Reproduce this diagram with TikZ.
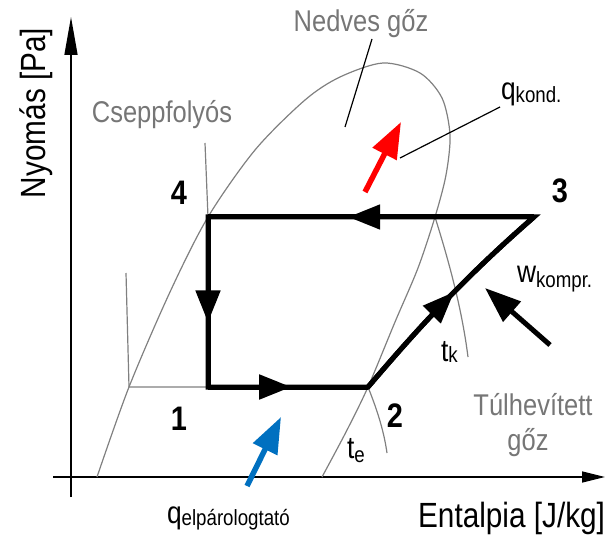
\documentclass[tikz,border=0pt]{standalone}
\usepackage{fontspec}
\setmainfont[FakeStretch=0.85]{Liberation Sans}
\usetikzlibrary{arrows.meta,decorations.markings}

\definecolor{labelgray}{RGB}{118,118,118}
\definecolor{curvegray}{RGB}{128,128,128}
\definecolor{heatblue}{RGB}{0,112,192}

\newcommand{\axisfont}{\fontsize{35}{40}\selectfont}
\newcommand{\regionfont}{\fontsize{30}{35}\selectfont}
\newcommand{\pointfont}{\fontsize{34}{40}\selectfont\bfseries}
\newcommand{\quantfont}{\fontsize{31}{35}\selectfont}
\newcommand{\lowindex}[2][3pt]{\raisebox{-#1}{\fontsize{22}{24}\selectfont #2}}

\tikzset{
  axisline/.style={line width=1.5pt},
  curve/.style={curvegray,line width=1.2pt},
  leader/.style={line width=1.2pt},
  cycleline/.style={line width=5pt,line join=miter},
  flowarrow/.style={postaction={decorate},
    decoration={markings,mark=at position #1 with {\arrow{Triangle[length=32pt,width=24pt]}}}},
  heatarrow/.style={line width=5.5pt,-{Triangle[length=36pt,width=26pt]}},
  txt/.style={inner sep=0pt,outer sep=0pt}
}

\begin{document}
\begin{tikzpicture}[x=1pt,y=-1pt]
\useasboundingbox (0,0) rectangle (610,537);

\coordinate (XAxisMin) at (53,477);
\coordinate (XAxisMax) at (605,477);
\coordinate (YAxisMin) at (71,497);
\coordinate (YAxisMax) at (71,17);

\coordinate (PointOne)   at (208,387);
\coordinate (PointTwo)   at (368,387);
\coordinate (PointThree) at (534,217);
\coordinate (PointFour)  at (208,217);
\coordinate (DomeRight)  at (435,217);
\coordinate (LiquidCorner) at (129,387);

\draw[axisline,-{Triangle[length=23pt,width=11pt]}] (XAxisMin) -- (XAxisMax);% x axis
\draw[axisline,-{Triangle[length=38pt,width=13pt]}] (YAxisMin) -- (YAxisMax);% y axis

% saturation dome
\draw[curve] plot[smooth,tension=0.5] coordinates {(97,477) (129,387) (170,292)
  (208,217) (255,150) (305,100) (340,77) (383,63) (420,73) (442,98) (450,135)
  (446,175) (435,217) (418,268) (395,322) (368,387) (346,432) (322,477)};

% isotherms
\draw[curve] (205,143) -- (PointFour);
\draw[curve] (126,273) -- (LiquidCorner) -- (PointOne);
\draw[curve] (DomeRight) .. controls (450,265) and (462,310) .. (468,357);
\draw[curve] (PointTwo) .. controls (378,412) and (384,432) .. (387,453);

% cycle
\draw[cycleline] (PointFour) -- (PointOne) -- (PointTwo)
  .. controls (400,350) and (450,290) .. (PointThree) -- cycle;
\draw[cycleline,flowarrow=0.62] (PointFour) -- (PointOne);
\draw[cycleline,flowarrow=0.52] (PointOne) -- (PointTwo);
\draw[cycleline,flowarrow=0.54] (PointTwo) .. controls (400,350) and (450,290) .. (PointThree);
\draw[cycleline,flowarrow=0.57] (PointThree) -- (PointFour);

% heat and work
\coordinate (CondTail) at (365,192);
\coordinate (CondTip)  at (401,122);
\coordinate (EvapTail) at (247,486);
\coordinate (EvapTip)  at (281,417);
\coordinate (WorkTail) at (550,345);
\coordinate (WorkTip)  at (485,288);
\draw[heatarrow,red] (CondTail) -- (CondTip);
\draw[heatarrow,heatblue] (EvapTail) -- (EvapTip);
\draw[heatarrow,line width=5pt] (WorkTail) -- (WorkTip);

% labels
\node[txt,rotate=90,anchor=base] (PressureLabel) at (45,113) {\axisfont Nyomás [Pa]};
\node[txt,anchor=base east] (EnthalpyLabel) at (605,527) {\axisfont Entalpia [J/kg]};
\node[txt,anchor=base,labelgray] (WetLabel) at (361,32) {\regionfont Nedves gőz};
\node[txt,anchor=base,labelgray] (LiquidLabel) at (162,123) {\regionfont Cseppfolyós};
\node[txt,anchor=base,labelgray] (SuperLabel) at (533,415) {\regionfont Túlhevített};
\node[txt,anchor=base,labelgray] (SuperLabelTwo) at (528,450) {\regionfont gőz};

\node[txt,anchor=base] (NumOne)   at (179,430) {\pointfont 1};
\node[txt,anchor=base] (NumTwo)   at (395,427) {\pointfont 2};
\node[txt,anchor=base] (NumThree) at (560,203) {\pointfont 3};
\node[txt,anchor=base] (NumFour)  at (179,205) {\pointfont 4};

\node[txt,anchor=base west] (CondLabel) at (501,100) {\quantfont q\lowindex{kond.}};
\node[txt,anchor=base west] (WorkLabel) at (517,283) {\quantfont w\lowindex[5pt]{kompr.}};
\node[txt,anchor=base west] (EvapLabel) at (167,523) {\quantfont q\lowindex[2pt]{elpárologtató}};
\node[txt,anchor=base west] (TkLabel) at (441,361) {\quantfont t\lowindex[1pt]{k}};
\node[txt,anchor=base west] (TeLabel) at (347,458) {\quantfont t\lowindex[4pt]{e}};

% leaders
\coordinate (WetLeaderTop) at (372,39);
\coordinate (WetLeaderEnd) at (345,127);
\coordinate (CondLeaderTop) at (500,107);
\coordinate (CondLeaderEnd) at (400,158);
\draw[leader] (WetLeaderTop) -- (WetLeaderEnd);
\draw[leader] (CondLeaderTop) -- (CondLeaderEnd);
\end{tikzpicture}
\end{document}
